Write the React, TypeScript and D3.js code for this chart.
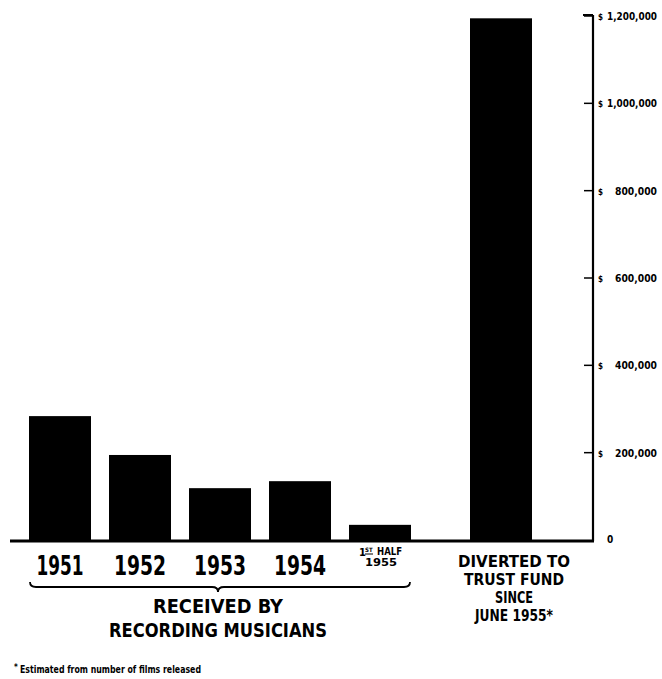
import React from "react";
import * as d3 from "d3";

const years = ["1951", "1952", "1953", "1954", "1955H1"];
const received = [286000, 197000, 121000, 137000, 37000];
const trustLabel = "DIVERTED";
const trustValue = 1197000;
const tickValues = [0, 200000, 400000, 600000, 800000, 1000000, 1200000];
const tickLabels = ["0", "200,000", "400,000", "600,000", "800,000", "1,000,000", "1,200,000"];
const yearLabels = ["1951", "1952", "1953", "1954"];
const groupLines = ["RECEIVED BY", "RECORDING MUSICIANS"];
const trustLines = ["DIVERTED TO", "TRUST FUND", "SINCE", "JUNE 1955*"];
const footnote = "Estimated from number of films released";

const FONT = "'DejaVu Sans Condensed', 'DejaVu Sans', sans-serif";

export default function App() {
  const W = 662, H = 679;
  const y = d3.scaleLinear().domain([0, 1200000]).range([541, 17]);
  const x = d3.scaleBand<string>().domain(years).range([29, 411]).paddingInner(0.225).paddingOuter(0);
  const x2 = d3.scaleBand<string>().domain([trustLabel]).range([470, 532]).padding(0);
  const axisX = 593;
  const yearLen = [47, 52, 52, 52];
  const trustLen = [112, 100, 38, 78];
  const trustCx = 514;
  const hx = (x(years[4]) as number) + x.bandwidth() / 2;

  // brace path
  const bx0 = 30, bx1 = 410, by = 587, bc = 218;
  const brace = `M${bx0},${by - 5} Q${bx0},${by} ${bx0 + 6},${by} L${bc - 6},${by} Q${bc},${by} ${bc},${by + 5} Q${bc},${by} ${bc + 6},${by} L${bx1 - 6},${by} Q${bx1},${by} ${bx1},${by - 5}`;

  return (
    <svg width={W} height={H} style={{ position: "absolute", left: 0, top: 0, background: "#fff" }} fontFamily={FONT}>
      <rect x={0} y={0} width={W} height={H} fill="#fff" />
      {/* bars */}
      {years.map((yr, i) => (
        <rect key={yr} x={x(yr)} y={y(received[i])} width={x.bandwidth()} height={y(0) - y(received[i])} fill="#000" />
      ))}
      <rect x={x2(trustLabel)} y={y(trustValue)} width={x2.bandwidth()} height={y(0) - y(trustValue)} fill="#000" />
      {/* baseline */}
      <line x1={10} x2={axisX + 1} y1={y(0)} y2={y(0)} stroke="#000" strokeWidth={3} />
      {/* right axis */}
      <line x1={axisX} x2={axisX} y1={15} y2={y(0)} stroke="#000" strokeWidth={2.2} />
      <line x1={583} x2={axisX} y1={15} y2={15} stroke="#000" strokeWidth={2} />
      {tickValues.map((v, i) =>
        v === 0 ? (
          <text key={v} x={607} y={y(v) + 2} fontSize={10} fontWeight="bold">0</text>
        ) : (
          <g key={v}>
            <line x1={584} x2={axisX} y1={y(v) - 1} y2={y(v) - 1} stroke="#000" strokeWidth={1.5} />
            <text x={598} y={y(v) + 3} fontSize={8} fontWeight="bold">$</text>
            <text x={657} y={y(v) + 3} fontSize={11} fontWeight="bold" textAnchor="end"
              textLength={tickLabels[i].length > 7 ? 50 : 42} lengthAdjust="spacingAndGlyphs">{tickLabels[i]}</text>
          </g>
        )
      )}
      {/* year labels */}
      {yearLabels.map((t, i) => (
        <text key={t} x={(x(years[i]) as number) + x.bandwidth() / 2} y={575} fontSize={27} fontWeight="bold"
          textAnchor="middle" textLength={yearLen[i]} lengthAdjust="spacingAndGlyphs">{t}</text>
      ))}
      {/* 1st half 1955 */}
      <g fontWeight="bold">
        <text x={hx - 21} y={556} fontSize={11}>1</text>
        <text x={hx - 15} y={552} fontSize={6}>ST</text>
        <line x1={hx - 15} x2={hx - 7} y1={554} y2={554} stroke="#000" strokeWidth={1} />
        <text x={hx - 3} y={555} fontSize={10} textLength={25} lengthAdjust="spacingAndGlyphs">HALF</text>
        <text x={hx + 1} y={566} fontSize={11} textAnchor="middle" textLength={32} lengthAdjust="spacingAndGlyphs">1955</text>
      </g>
      {/* brace */}
      <path d={brace} fill="none" stroke="#000" strokeWidth={1.8} />
      {/* group label */}
      <text x={218} y={613} fontSize={20} fontWeight="bold" textAnchor="middle" textLength={130} lengthAdjust="spacingAndGlyphs">{groupLines[0]}</text>
      <text x={218} y={637} fontSize={20} fontWeight="bold" textAnchor="middle" textLength={218} lengthAdjust="spacingAndGlyphs">{groupLines[1]}</text>
      {/* trust label */}
      {trustLines.map((t, i) => (
        <text key={t} x={trustCx} y={567 + i * 18} fontSize={15} fontWeight="bold" textAnchor="middle"
          textLength={trustLen[i]} lengthAdjust="spacingAndGlyphs">{t}</text>
      ))}
      {/* footnote */}
      <text x={14} y={670} fontSize={8} fontWeight="bold">*</text>
      <text x={20} y={673} fontSize={10} fontWeight="bold" textLength={181} lengthAdjust="spacingAndGlyphs">{footnote}</text>
    </svg>
  );
}
